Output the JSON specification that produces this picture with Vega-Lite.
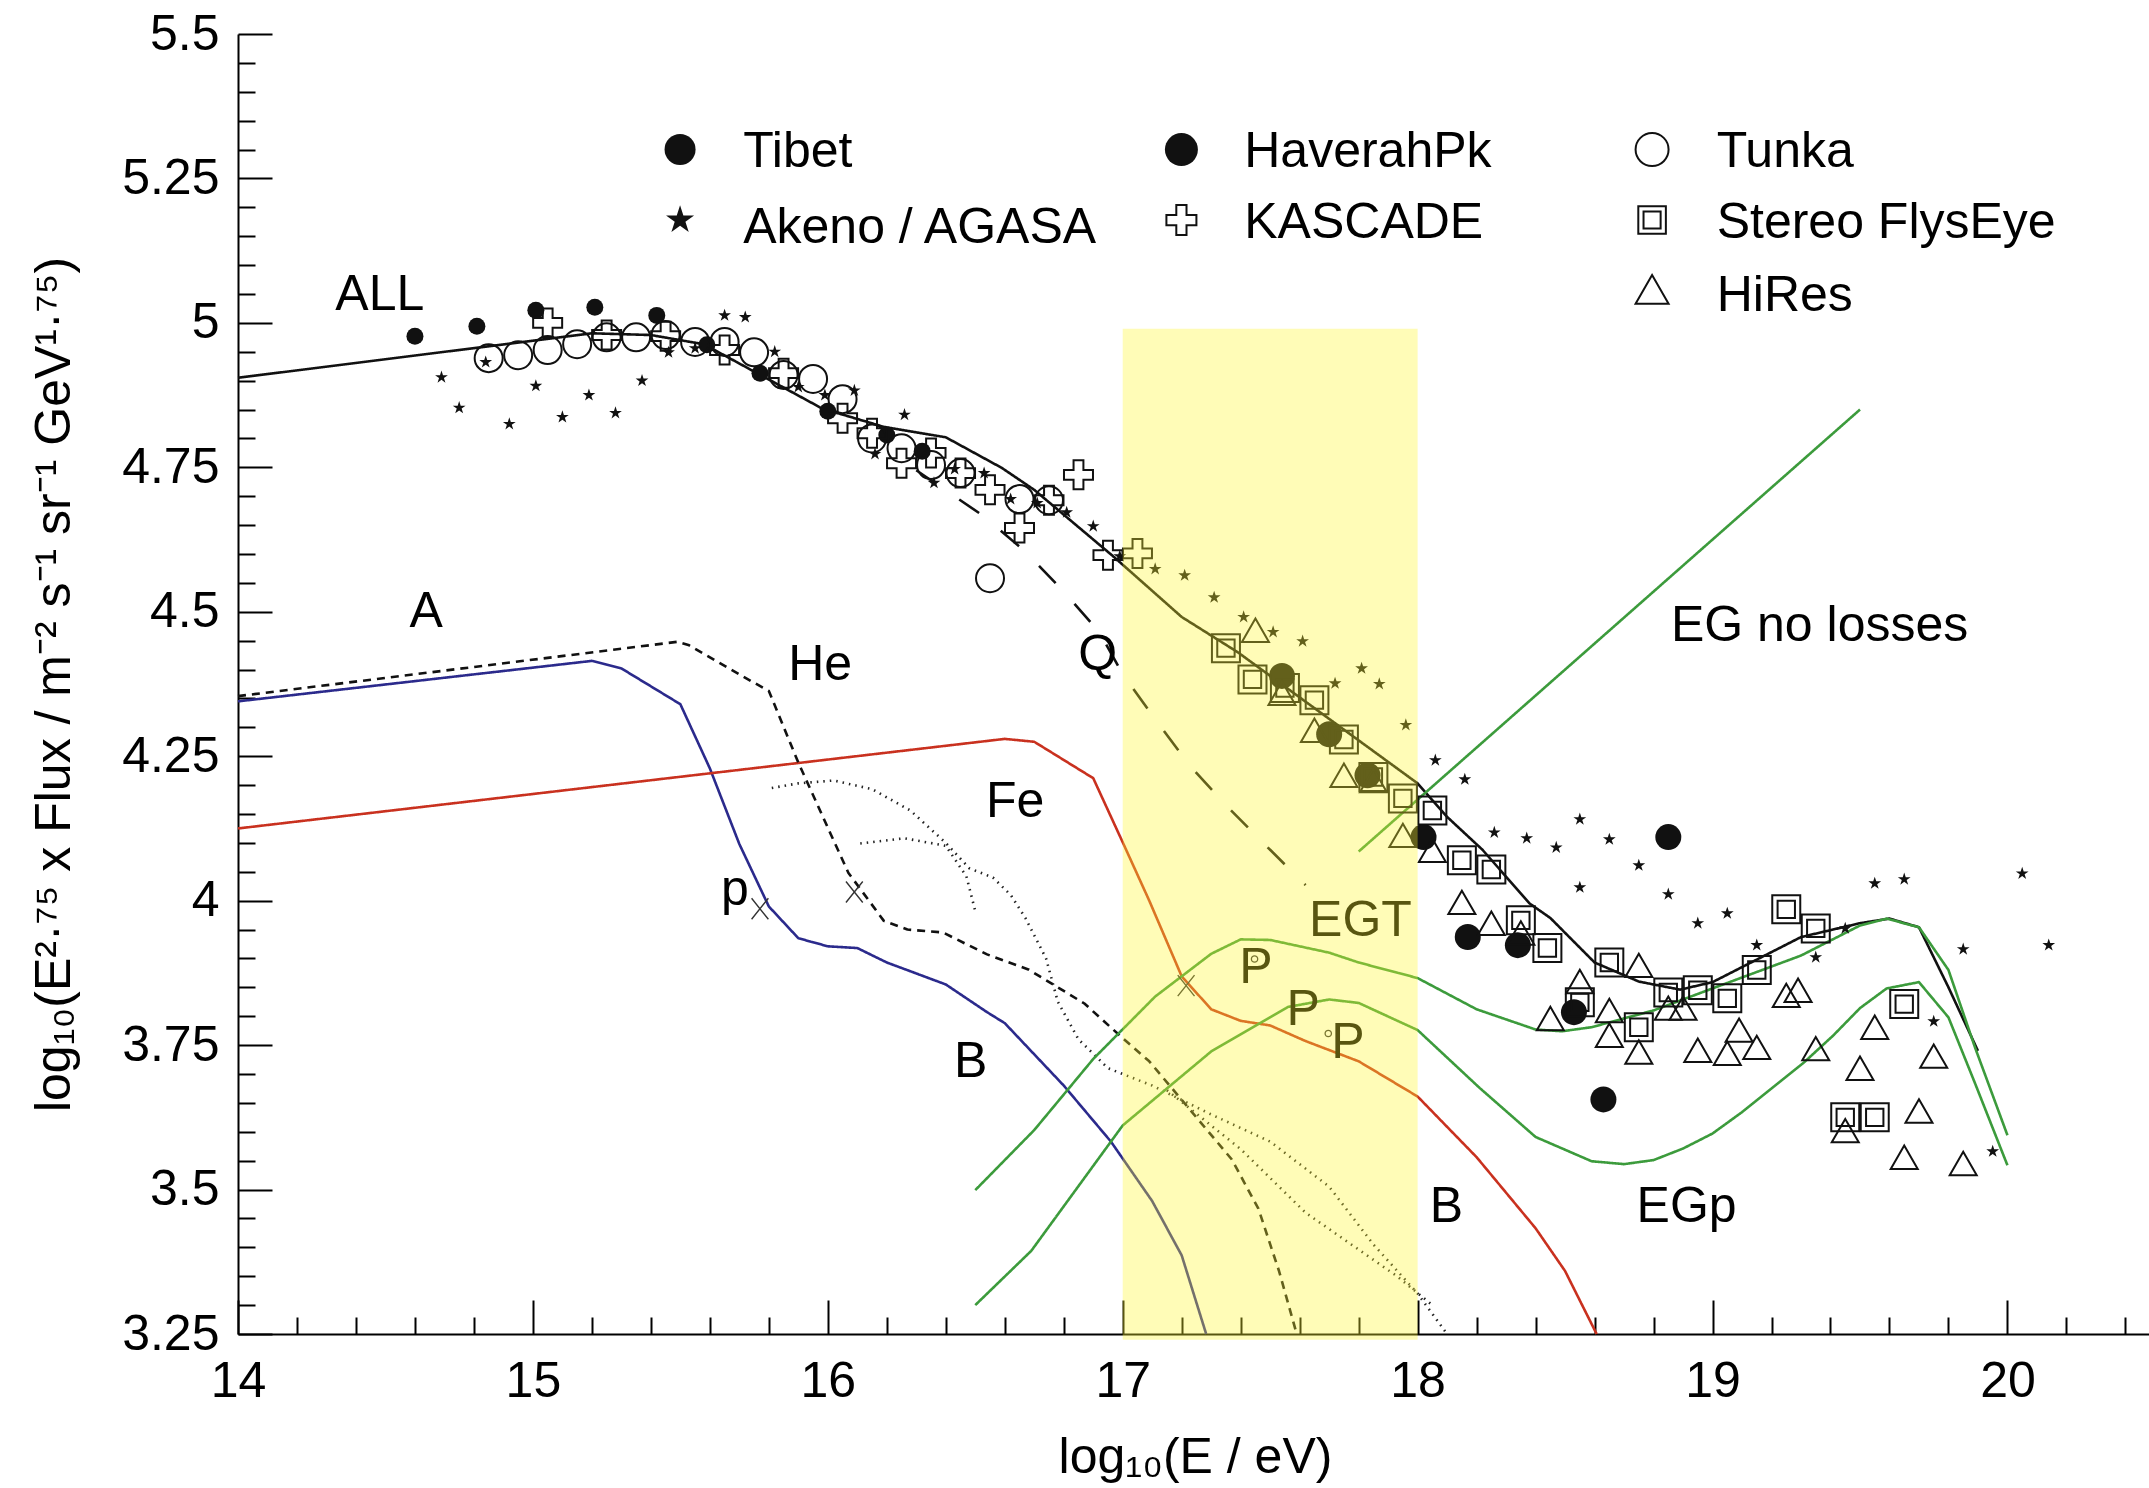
{
"$schema": "https://vega.github.io/schema/vega-lite/v6.json",
"width": 1911, "height": 1300,
"autosize": "none",
"padding": {"left": 238, "top": 34, "right": 0, "bottom": 154},
"background": "white",
"view": {"stroke": null},
"config": {"font": "Liberation Sans", "text": {"font": "Liberation Sans", "fontSize": 50, "color": "#000"}},
"datasets": {
"band": [{"x": 17, "x2": 18, "y": 3.24, "y2": 4.99}],
"curves": [
{"c":"ALL","x":14,"y":4.905},{"c":"ALL","x":15.2,"y":4.982},{"c":"ALL","x":15.4,"y":4.979},{"c":"ALL","x":15.58,"y":4.963},{"c":"ALL","x":15.98,"y":4.852},{"c":"ALL","x":16.19,"y":4.82},{"c":"ALL","x":16.4,"y":4.802},{"c":"ALL","x":16.59,"y":4.749},{"c":"ALL","x":16.7,"y":4.711},{"c":"ALL","x":16.97,"y":4.595},{"c":"ALL","x":17.2,"y":4.491},{"c":"ALL","x":17.39,"y":4.43},{"c":"ALL","x":18.0,"y":4.203},{"c":"ALL","x":18.1,"y":4.145},{"c":"ALL","x":18.22,"y":4.088},{"c":"ALL","x":18.38,"y":3.995},{"c":"ALL","x":18.45,"y":3.97},{"c":"ALL","x":18.6,"y":3.893},{"c":"ALL","x":18.75,"y":3.86},{"c":"ALL","x":18.89,"y":3.846},{"c":"ALL","x":19.0,"y":3.859},{"c":"ALL","x":19.3,"y":3.937},{"c":"ALL","x":19.5,"y":3.961},{"c":"ALL","x":19.6,"y":3.969},{"c":"ALL","x":19.7,"y":3.954},{"c":"ALL","x":19.8,"y":3.85},{"c":"ALL","x":19.9,"y":3.74},
{"c":"Q","x":16.3,"y":4.745},{"c":"Q","x":16.53,"y":4.665},{"c":"Q","x":16.67,"y":4.604},{"c":"Q","x":16.8,"y":4.535},{"c":"Q","x":16.92,"y":4.465},{"c":"Q","x":17.0,"y":4.392},{"c":"Q","x":17.12,"y":4.307},{"c":"Q","x":17.23,"y":4.232},{"c":"Q","x":17.36,"y":4.16},{"c":"Q","x":17.49,"y":4.093},{"c":"Q","x":17.62,"y":4.027},
{"c":"p","x":14,"y":4.345},{"c":"p","x":15.2,"y":4.415},{"c":"p","x":15.3,"y":4.402},{"c":"p","x":15.4,"y":4.371},{"c":"p","x":15.5,"y":4.34},{"c":"p","x":15.6,"y":4.229},{"c":"p","x":15.7,"y":4.098},{"c":"p","x":15.8,"y":3.99},{"c":"p","x":15.9,"y":3.935},{"c":"p","x":16.0,"y":3.921},{"c":"p","x":16.1,"y":3.918},{"c":"p","x":16.2,"y":3.893},{"c":"p","x":16.3,"y":3.874},{"c":"p","x":16.4,"y":3.855},{"c":"p","x":16.54,"y":3.807},{"c":"p","x":16.6,"y":3.788},{"c":"p","x":16.8,"y":3.68},{"c":"p","x":16.96,"y":3.583},{"c":"p","x":17.1,"y":3.48},{"c":"p","x":17.2,"y":3.386},{"c":"p","x":17.283,"y":3.25},
{"c":"Fe","x":14,"y":4.125},{"c":"Fe","x":16.6,"y":4.28},{"c":"Fe","x":16.7,"y":4.275},{"c":"Fe","x":16.9,"y":4.212},{"c":"Fe","x":17.0,"y":4.101},{"c":"Fe","x":17.09,"y":4.0},{"c":"Fe","x":17.2,"y":3.869},{"c":"Fe","x":17.3,"y":3.812},{"c":"Fe","x":17.4,"y":3.792},{"c":"Fe","x":17.5,"y":3.784},{"c":"Fe","x":17.62,"y":3.757},{"c":"Fe","x":17.8,"y":3.722},{"c":"Fe","x":18.0,"y":3.661},{"c":"Fe","x":18.2,"y":3.556},{"c":"Fe","x":18.4,"y":3.433},{"c":"Fe","x":18.5,"y":3.359},{"c":"Fe","x":18.607,"y":3.25},
{"c":"He","x":14,"y":4.354},{"c":"He","x":15.49,"y":4.448},{"c":"He","x":15.53,"y":4.442},{"c":"He","x":15.74,"y":4.38},{"c":"He","x":15.8,"y":4.363},{"c":"He","x":15.9,"y":4.239},{"c":"He","x":16.01,"y":4.115},{"c":"He","x":16.07,"y":4.048},{"c":"He","x":16.19,"y":3.965},{"c":"He","x":16.27,"y":3.95},{"c":"He","x":16.39,"y":3.945},{"c":"He","x":16.54,"y":3.907},{"c":"He","x":16.68,"y":3.881},{"c":"He","x":16.87,"y":3.822},{"c":"He","x":17.0,"y":3.762},{"c":"He","x":17.09,"y":3.722},{"c":"He","x":17.23,"y":3.637},{"c":"He","x":17.37,"y":3.552},{"c":"He","x":17.46,"y":3.467},{"c":"He","x":17.53,"y":3.359},{"c":"He","x":17.59,"y":3.25},
{"c":"D1","x":15.81,"y":4.195},{"c":"D1","x":15.9,"y":4.203},{"c":"D1","x":16.02,"y":4.208},{"c":"D1","x":16.15,"y":4.193},{"c":"D1","x":16.28,"y":4.156},{"c":"D1","x":16.4,"y":4.1},{"c":"D1","x":16.48,"y":4.056},{"c":"D1","x":16.56,"y":4.04},{"c":"D1","x":16.62,"y":4.01},{"c":"D1","x":16.67,"y":3.97},{"c":"D1","x":16.74,"y":3.9},{"c":"D1","x":16.78,"y":3.825},{"c":"D1","x":16.85,"y":3.76},{"c":"D1","x":16.95,"y":3.71},{"c":"D1","x":17.1,"y":3.68},{"c":"D1","x":17.3,"y":3.63},{"c":"D1","x":17.5,"y":3.583},{"c":"D1","x":17.7,"y":3.505},{"c":"D1","x":17.85,"y":3.405},{"c":"D1","x":18.0,"y":3.32},{"c":"D1","x":18.1,"y":3.25},
{"c":"D2","x":16.11,"y":4.099},{"c":"D2","x":16.26,"y":4.108},{"c":"D2","x":16.4,"y":4.095},{"c":"D2","x":16.47,"y":4.042},{"c":"D2","x":16.5,"y":3.982},
{"c":"D3","x":17.15,"y":3.672},{"c":"D3","x":17.4,"y":3.57},{"c":"D3","x":17.62,"y":3.46},{"c":"D3","x":17.93,"y":3.35},{"c":"D3","x":18.05,"y":3.3},
{"c":"EGT","x":16.5,"y":3.499},{"c":"EGT","x":16.7,"y":3.603},{"c":"EGT","x":16.9,"y":3.726},{"c":"EGT","x":17.11,"y":3.834},{"c":"EGT","x":17.3,"y":3.908},{"c":"EGT","x":17.4,"y":3.933},{"c":"EGT","x":17.5,"y":3.932},{"c":"EGT","x":17.7,"y":3.91},{"c":"EGT","x":17.8,"y":3.893},{"c":"EGT","x":18.0,"y":3.866},{"c":"EGT","x":18.2,"y":3.812},{"c":"EGT","x":18.4,"y":3.777},{"c":"EGT","x":18.49,"y":3.774},{"c":"EGT","x":18.59,"y":3.781},{"c":"EGT","x":18.8,"y":3.81},{"c":"EGT","x":19.01,"y":3.85},{"c":"EGT","x":19.3,"y":3.905},{"c":"EGT","x":19.5,"y":3.957},{"c":"EGT","x":19.59,"y":3.969},{"c":"EGT","x":19.7,"y":3.954},{"c":"EGT","x":19.8,"y":3.88},{"c":"EGT","x":19.89,"y":3.746},{"c":"EGT","x":20.0,"y":3.594},
{"c":"EGp","x":16.5,"y":3.3},{"c":"EGp","x":16.69,"y":3.394},{"c":"EGp","x":17.0,"y":3.611},{"c":"EGp","x":17.3,"y":3.739},{"c":"EGp","x":17.56,"y":3.816},{"c":"EGp","x":17.7,"y":3.829},{"c":"EGp","x":17.8,"y":3.823},{"c":"EGp","x":18.0,"y":3.776},{"c":"EGp","x":18.21,"y":3.676},{"c":"EGp","x":18.4,"y":3.591},{"c":"EGp","x":18.59,"y":3.549},{"c":"EGp","x":18.7,"y":3.544},{"c":"EGp","x":18.8,"y":3.551},{"c":"EGp","x":18.9,"y":3.571},{"c":"EGp","x":19.0,"y":3.597},{"c":"EGp","x":19.1,"y":3.634},{"c":"EGp","x":19.2,"y":3.675},{"c":"EGp","x":19.31,"y":3.72},{"c":"EGp","x":19.41,"y":3.767},{"c":"EGp","x":19.5,"y":3.814},{"c":"EGp","x":19.59,"y":3.848},{"c":"EGp","x":19.7,"y":3.859},{"c":"EGp","x":19.8,"y":3.798},{"c":"EGp","x":19.89,"y":3.684},{"c":"EGp","x":20.0,"y":3.542},
{"c":"EGnl","x":17.8,"y":4.085},{"c":"EGnl","x":19.5,"y":4.85}
],
"pts": [
{"s":"Tibet","x":14.6,"y":4.977},{"s":"Tibet","x":14.81,"y":4.994},{"s":"Tibet","x":15.01,"y":5.022},{"s":"Tibet","x":15.21,"y":5.027},{"s":"Tibet","x":15.42,"y":5.013},{"s":"Tibet","x":15.59,"y":4.962},{"s":"Tibet","x":15.77,"y":4.913},{"s":"Tibet","x":16.0,"y":4.847},{"s":"Tibet","x":16.2,"y":4.806},{"s":"Tibet","x":16.32,"y":4.778},
{"s":"Tunka","x":14.85,"y":4.939},{"s":"Tunka","x":14.95,"y":4.944},{"s":"Tunka","x":15.05,"y":4.953},{"s":"Tunka","x":15.15,"y":4.963},{"s":"Tunka","x":15.25,"y":4.975},{"s":"Tunka","x":15.35,"y":4.975},{"s":"Tunka","x":15.45,"y":4.979},{"s":"Tunka","x":15.55,"y":4.967},{"s":"Tunka","x":15.65,"y":4.967},{"s":"Tunka","x":15.75,"y":4.949},{"s":"Tunka","x":15.85,"y":4.91},{"s":"Tunka","x":15.95,"y":4.903},{"s":"Tunka","x":16.05,"y":4.868},{"s":"Tunka","x":16.15,"y":4.8},{"s":"Tunka","x":16.25,"y":4.783},{"s":"Tunka","x":16.35,"y":4.754},{"s":"Tunka","x":16.45,"y":4.74},{"s":"Tunka","x":16.55,"y":4.558},{"s":"Tunka","x":16.65,"y":4.695},{"s":"Tunka","x":16.75,"y":4.693},
{"s":"KASCADE","x":15.05,"y":5.0},{"s":"KASCADE","x":15.25,"y":4.979},{"s":"KASCADE","x":15.45,"y":4.977},{"s":"KASCADE","x":15.65,"y":4.953},{"s":"KASCADE","x":15.85,"y":4.913},{"s":"KASCADE","x":16.05,"y":4.835},{"s":"KASCADE","x":16.15,"y":4.809},{"s":"KASCADE","x":16.25,"y":4.757},{"s":"KASCADE","x":16.35,"y":4.775},{"s":"KASCADE","x":16.45,"y":4.74},{"s":"KASCADE","x":16.55,"y":4.711},{"s":"KASCADE","x":16.65,"y":4.645},{"s":"KASCADE","x":16.75,"y":4.693},{"s":"KASCADE","x":16.85,"y":4.737},{"s":"KASCADE","x":16.95,"y":4.598},{"s":"KASCADE","x":17.05,"y":4.601},
{"s":"Akeno","x":14.69,"y":4.906},{"s":"Akeno","x":14.75,"y":4.853},{"s":"Akeno","x":14.84,"y":4.932},{"s":"Akeno","x":14.92,"y":4.825},{"s":"Akeno","x":15.01,"y":4.891},{"s":"Akeno","x":15.1,"y":4.837},{"s":"Akeno","x":15.19,"y":4.875},{"s":"Akeno","x":15.28,"y":4.844},{"s":"Akeno","x":15.37,"y":4.9},{"s":"Akeno","x":15.46,"y":4.949},{"s":"Akeno","x":15.55,"y":4.956},{"s":"Akeno","x":15.65,"y":5.013},{"s":"Akeno","x":15.72,"y":5.01},{"s":"Akeno","x":15.82,"y":4.95},{"s":"Akeno","x":15.9,"y":4.889},{"s":"Akeno","x":15.99,"y":4.875},{"s":"Akeno","x":16.09,"y":4.883},{"s":"Akeno","x":16.16,"y":4.773},{"s":"Akeno","x":16.26,"y":4.841},{"s":"Akeno","x":16.36,"y":4.723},{"s":"Akeno","x":16.43,"y":4.747},{"s":"Akeno","x":16.53,"y":4.74},{"s":"Akeno","x":16.62,"y":4.695},{"s":"Akeno","x":16.71,"y":4.688},{"s":"Akeno","x":16.81,"y":4.672},{"s":"Akeno","x":16.9,"y":4.648},{"s":"Akeno","x":16.99,"y":4.596},{"s":"Akeno","x":17.11,"y":4.574},{"s":"Akeno","x":17.21,"y":4.563},{"s":"Akeno","x":17.31,"y":4.525},{"s":"Akeno","x":17.41,"y":4.491},{"s":"Akeno","x":17.51,"y":4.465},{"s":"Akeno","x":17.61,"y":4.449},{"s":"Akeno","x":17.72,"y":4.376},{"s":"Akeno","x":17.81,"y":4.402},{"s":"Akeno","x":17.87,"y":4.375},{"s":"Akeno","x":17.96,"y":4.304},{"s":"Akeno","x":18.06,"y":4.243},{"s":"Akeno","x":18.16,"y":4.21},{"s":"Akeno","x":18.26,"y":4.118},{"s":"Akeno","x":18.37,"y":4.108},{"s":"Akeno","x":18.47,"y":4.092},{"s":"Akeno","x":18.55,"y":4.141},{"s":"Akeno","x":18.55,"y":4.023},{"s":"Akeno","x":18.65,"y":4.106},{"s":"Akeno","x":18.75,"y":4.061},{"s":"Akeno","x":18.85,"y":4.011},{"s":"Akeno","x":18.95,"y":3.961},{"s":"Akeno","x":19.05,"y":3.978},{"s":"Akeno","x":19.15,"y":3.923},{"s":"Akeno","x":19.35,"y":3.902},{"s":"Akeno","x":19.45,"y":3.952},{"s":"Akeno","x":19.55,"y":4.03},{"s":"Akeno","x":19.65,"y":4.037},{"s":"Akeno","x":19.75,"y":3.791},{"s":"Akeno","x":19.85,"y":3.916},{"s":"Akeno","x":19.95,"y":3.566},{"s":"Akeno","x":20.05,"y":4.047},{"s":"Akeno","x":20.14,"y":3.923},
{"s":"Haverah","x":17.54,"y":4.389},{"s":"Haverah","x":17.7,"y":4.288},{"s":"Haverah","x":17.83,"y":4.217},{"s":"Haverah","x":18.02,"y":4.11},{"s":"Haverah","x":18.17,"y":3.937},{"s":"Haverah","x":18.34,"y":3.923},{"s":"Haverah","x":18.53,"y":3.807},{"s":"Haverah","x":18.63,"y":3.656},{"s":"Haverah","x":18.85,"y":4.11},
{"s":"Stereo","x":17.35,"y":4.437},{"s":"Stereo","x":17.44,"y":4.383},{"s":"Stereo","x":17.55,"y":4.368},{"s":"Stereo","x":17.65,"y":4.347},{"s":"Stereo","x":17.75,"y":4.279},{"s":"Stereo","x":17.85,"y":4.214},{"s":"Stereo","x":17.95,"y":4.177},{"s":"Stereo","x":18.05,"y":4.156},{"s":"Stereo","x":18.15,"y":4.07},{"s":"Stereo","x":18.25,"y":4.054},{"s":"Stereo","x":18.35,"y":3.966},{"s":"Stereo","x":18.44,"y":3.918},{"s":"Stereo","x":18.55,"y":3.824},{"s":"Stereo","x":18.65,"y":3.893},{"s":"Stereo","x":18.75,"y":3.781},{"s":"Stereo","x":18.85,"y":3.841},{"s":"Stereo","x":18.95,"y":3.845},{"s":"Stereo","x":19.05,"y":3.831},{"s":"Stereo","x":19.15,"y":3.88},{"s":"Stereo","x":19.25,"y":3.985},{"s":"Stereo","x":19.35,"y":3.952},{"s":"Stereo","x":19.45,"y":3.625},{"s":"Stereo","x":19.55,"y":3.625},{"s":"Stereo","x":19.65,"y":3.821},
{"s":"HiRes","x":17.45,"y":4.468},{"s":"HiRes","x":17.54,"y":4.359},{"s":"HiRes","x":17.65,"y":4.295},{"s":"HiRes","x":17.75,"y":4.217},{"s":"HiRes","x":17.85,"y":4.208},{"s":"HiRes","x":17.95,"y":4.113},{"s":"HiRes","x":18.05,"y":4.087},{"s":"HiRes","x":18.15,"y":3.997},{"s":"HiRes","x":18.25,"y":3.961},{"s":"HiRes","x":18.35,"y":3.944},{"s":"HiRes","x":18.45,"y":3.796},{"s":"HiRes","x":18.55,"y":3.86},{"s":"HiRes","x":18.65,"y":3.81},{"s":"HiRes","x":18.65,"y":3.767},{"s":"HiRes","x":18.75,"y":3.888},{"s":"HiRes","x":18.75,"y":3.738},{"s":"HiRes","x":18.85,"y":3.814},{"s":"HiRes","x":18.9,"y":3.814},{"s":"HiRes","x":18.95,"y":3.741},{"s":"HiRes","x":19.05,"y":3.736},{"s":"HiRes","x":19.09,"y":3.776},{"s":"HiRes","x":19.15,"y":3.746},{"s":"HiRes","x":19.25,"y":3.836},{"s":"HiRes","x":19.29,"y":3.845},{"s":"HiRes","x":19.35,"y":3.744},{"s":"HiRes","x":19.45,"y":3.602},{"s":"HiRes","x":19.5,"y":3.71},{"s":"HiRes","x":19.55,"y":3.781},{"s":"HiRes","x":19.65,"y":3.556},{"s":"HiRes","x":19.7,"y":3.636},{"s":"HiRes","x":19.75,"y":3.731},{"s":"HiRes","x":19.85,"y":3.545},
{"s":"X","x":15.77,"y":3.986},{"s":"X","x":16.09,"y":4.015},{"s":"X","x":17.215,"y":3.853},
{"s":"ring","x":17.447,"y":3.899},{"s":"ring","x":17.697,"y":3.77}
],
"labels": [
{"t":"ALL","x":14.481,"y":5.022},{"t":"A","x":14.638,"y":4.474},{"t":"He","x":15.974,"y":4.382},{"t":"Q","x":16.915,"y":4.399},{"t":"EG no losses","x":19.363,"y":4.449},{"t":"Fe","x":16.635,"y":4.145},{"t":"p","x":15.685,"y":3.993},{"t":"B","x":16.484,"y":3.695},{"t":"EGT","x":17.806,"y":3.939},{"t":"P","x":17.452,"y":3.858},{"t":"P","x":17.612,"y":3.785},{"t":"P","x":17.764,"y":3.727},{"t":"B","x":18.098,"y":3.443},{"t":"EGp","x":18.912,"y":3.443}
],
"leg": [
{"s":"Tibet","t":"Tibet","x":15.499,"y":5.3,"tx":15.713,"ty":5.269},
{"s":"Akeno","t":"Akeno / AGASA","x":15.499,"y":5.178,"tx":15.713,"ty":5.139},
{"s":"Haverah","t":"HaverahPk","x":17.199,"y":5.3,"tx":17.412,"ty":5.269},
{"s":"KASCADE","t":"KASCADE","x":17.199,"y":5.178,"tx":17.412,"ty":5.147},
{"s":"Tunka","t":"Tunka","x":18.795,"y":5.3,"tx":19.014,"ty":5.269},
{"s":"Stereo","t":"Stereo FlysEye","x":18.795,"y":5.178,"tx":19.014,"ty":5.147},
{"s":"HiRes","t":"HiRes","x":18.795,"y":5.058,"tx":19.014,"ty":5.02}
]
},
"encoding": {
"x": {"field": "x", "type": "quantitative", "scale": {"domain": [14, 20.48], "nice": false, "zero": false},
 "axis": {"values": [14,14.2,14.4,14.6,14.8,15,15.2,15.4,15.6,15.8,16,16.2,16.4,16.6,16.8,17,17.2,17.4,17.6,17.8,18,18.2,18.4,18.6,18.8,19,19.2,19.4,19.6,19.8,20,20.2,20.4],
  "format": "~g", "labelExpr": "datum.value % 1 == 0 ? datum.label : ''",
  "tickSize": {"condition": {"test": "datum.value % 1 == 0", "value": -34}, "value": -17},
  "tickWidth": 2, "tickColor": "#000", "domainColor": "#000", "domainWidth": 2, "grid": false,
  "labelFont": "Liberation Sans", "labelFontSize": 50, "labelColor": "#000", "labelPadding": 56, "labelFlush": false, "labelOverlap": false,
  "title": "log₁₀(E / eV)", "titleFont": "Liberation Sans", "titleFontSize": 50, "titleFontWeight": "normal", "titleColor": "#000",
  "titleX": 957, "titleY": 138, "titleBaseline": "alphabetic", "titleAlign": "center"}},
"y": {"field": "y", "type": "quantitative", "scale": {"domain": [3.25, 5.5], "nice": false, "zero": false},
 "axis": {"values": [3.25,3.3,3.35,3.4,3.45,3.5,3.55,3.6,3.65,3.7,3.75,3.8,3.85,3.9,3.95,4,4.05,4.1,4.15,4.2,4.25,4.3,4.35,4.4,4.45,4.5,4.55,4.6,4.65,4.7,4.75,4.8,4.85,4.9,4.95,5,5.05,5.1,5.15,5.2,5.25,5.3,5.35,5.4,5.45,5.5],
  "format": "~g", "labelExpr": "(datum.value * 4) % 1 == 0 ? datum.label : ''",
  "tickSize": {"condition": {"test": "(datum.value * 4) % 1 == 0", "value": -34}, "value": -17},
  "tickWidth": 2, "tickColor": "#000", "domainColor": "#000", "domainWidth": 2, "grid": false,
  "labelFont": "Liberation Sans", "labelFontSize": 50, "labelColor": "#000", "labelPadding": 53, "labelFlush": false, "labelOverlap": false,
  "title": "log₁₀(E²·⁷⁵ x Flux / m⁻² s⁻¹ sr⁻¹ GeV¹·⁷⁵)", "titleFont": "Liberation Sans", "titleFontSize": 50, "titleFontWeight": "normal", "titleColor": "#000",
  "titleX": -169, "titleY": 650, "titleAngle": 270, "titleBaseline": "alphabetic", "titleAlign": "center"}}
},
"layer": [
{"data": {"name": "curves"}, "mark": {"type": "line", "strokeCap": "butt", "strokeJoin": "round"},
 "encoding": {
  "color": {"field": "c", "type": "nominal", "legend": null, "scale": {"domain": ["ALL","Q","p","Fe","He","D1","D2","D3","EGT","EGp","EGnl"], "range": ["#111111","#111111","#2b2a8c","#c9311f","#111111","#222222","#222222","#222222","#3c9b3c","#3c9b3c","#3c9b3c"]}},
  "strokeDash": {"field": "c", "type": "nominal", "legend": null, "scale": {"domain": ["ALL","Q","p","Fe","He","D1","D2","D3","EGT","EGp","EGnl"], "range": [[1,0],[24,28],[1,0],[1,0],[8,6],[1.5,5],[1.5,5],[1.5,5],[1,0],[1,0],[1,0]]}},
  "strokeWidth": {"field": "c", "type": "nominal", "legend": null, "scale": {"domain": ["ALL","Q","p","Fe","He","D1","D2","D3","EGT","EGp","EGnl"], "range": [2.6,2.6,2.4,2.4,1.7,1.5,1.5,1.5,2.4,2.4,2.4]}}
 }},
{"data": {"name": "pts"}, "transform": [{"filter": "datum.s == 'Tibet'"}], "mark": {"type": "point", "shape": "circle", "size": 289, "filled": true, "color": "#111", "opacity": 1}},
{"data": {"name": "pts"}, "transform": [{"filter": "datum.s == 'Haverah'"}], "mark": {"type": "point", "shape": "circle", "size": 676, "filled": true, "color": "#111", "opacity": 1}},
{"data": {"name": "pts"}, "transform": [{"filter": "datum.s == 'Tunka'"}], "mark": {"type": "point", "shape": "circle", "size": 784, "filled": false, "color": "#111", "strokeWidth": 2, "opacity": 1}},
{"data": {"name": "pts"}, "transform": [{"filter": "datum.s == 'KASCADE'"}], "mark": {"type": "point", "shape": "M-0.34,-1H0.34V-0.34H1V0.34H0.34V1H-0.34V0.34H-1V-0.34H-0.34Z", "size": 841, "filled": false, "color": "#111", "strokeWidth": 2, "opacity": 1}},
{"data": {"name": "pts"}, "transform": [{"filter": "datum.s == 'Akeno'"}], "mark": {"type": "point", "shape": "M0,-1L0.2245,-0.309L0.951,-0.309L0.363,0.118L0.588,0.809L0,0.382L-0.588,0.809L-0.363,0.118L-0.951,-0.309L-0.2245,-0.309Z", "size": 180, "filled": true, "color": "#111", "opacity": 1}},
{"data": {"name": "pts"}, "transform": [{"filter": "datum.s == 'Stereo'"}], "mark": {"type": "point", "shape": "M-1,-1H1V1H-1Z M-0.62,-0.62H0.62V0.62H-0.62Z", "size": 784, "filled": false, "color": "#111", "strokeWidth": 2, "opacity": 1}},
{"data": {"name": "pts"}, "transform": [{"filter": "datum.s == 'HiRes'"}], "mark": {"type": "point", "shape": "M0,-0.866L1,0.866L-1,0.866Z", "size": 729, "filled": false, "color": "#111", "strokeWidth": 2, "opacity": 1}},
{"data": {"name": "pts"}, "transform": [{"filter": "datum.s == 'X'"}], "mark": {"type": "point", "shape": "M-0.8,-1L0.8,1M-0.8,1L0.8,-1", "size": 441, "filled": false, "color": "#333", "strokeWidth": 1.4, "opacity": 1}},
{"data": {"name": "pts"}, "transform": [{"filter": "datum.s == 'ring'"}], "mark": {"type": "point", "shape": "circle", "size": 40, "filled": false, "color": "#333", "strokeWidth": 1.3, "opacity": 1}},
{"data": {"name": "labels"}, "mark": {"type": "text", "align": "center", "baseline": "alphabetic", "font": "Liberation Sans", "fontSize": 50, "color": "#000"}, "encoding": {"text": {"field": "t"}}},
{"data": {"name": "band"}, "mark": {"type": "rect", "fill": "#fff52e", "fillOpacity": 0.345, "strokeWidth": 0},
 "encoding": {"x2": {"field": "x2"}, "y2": {"field": "y2"}}},
{"data": {"values": [{}]}, "mark": {"type": "rule", "color": "#000", "strokeWidth": 2},
 "encoding": {"x": {"datum": 14}, "x2": {"datum": 20.48}, "y": {"datum": 5.5}}},
{"data": {"name": "leg"}, "transform": [{"filter": "datum.s == 'Tibet'"}], "mark": {"type": "point", "shape": "circle", "size": 961, "filled": true, "color": "#111", "opacity": 1}},
{"data": {"name": "leg"}, "transform": [{"filter": "datum.s == 'Haverah'"}], "mark": {"type": "point", "shape": "circle", "size": 1089, "filled": true, "color": "#111", "opacity": 1}},
{"data": {"name": "leg"}, "transform": [{"filter": "datum.s == 'Tunka'"}], "mark": {"type": "point", "shape": "circle", "size": 1089, "filled": false, "color": "#111", "strokeWidth": 2, "opacity": 1}},
{"data": {"name": "leg"}, "transform": [{"filter": "datum.s == 'KASCADE'"}], "mark": {"type": "point", "shape": "M-0.34,-1H0.34V-0.34H1V0.34H0.34V1H-0.34V0.34H-1V-0.34H-0.34Z", "size": 900, "filled": false, "color": "#111", "strokeWidth": 2, "opacity": 1}},
{"data": {"name": "leg"}, "transform": [{"filter": "datum.s == 'Akeno'"}], "mark": {"type": "point", "shape": "M0,-1L0.2245,-0.309L0.951,-0.309L0.363,0.118L0.588,0.809L0,0.382L-0.588,0.809L-0.363,0.118L-0.951,-0.309L-0.2245,-0.309Z", "size": 870, "filled": true, "color": "#111", "opacity": 1}},
{"data": {"name": "leg"}, "transform": [{"filter": "datum.s == 'Stereo'"}], "mark": {"type": "point", "shape": "M-1,-1H1V1H-1Z M-0.62,-0.62H0.62V0.62H-0.62Z", "size": 760, "filled": false, "color": "#111", "strokeWidth": 2, "opacity": 1}},
{"data": {"name": "leg"}, "transform": [{"filter": "datum.s == 'HiRes'"}], "mark": {"type": "point", "shape": "M0,-0.866L1,0.866L-1,0.866Z", "size": 1089, "filled": false, "color": "#111", "strokeWidth": 2, "opacity": 1}},
{"data": {"name": "leg"}, "mark": {"type": "text", "align": "left", "baseline": "alphabetic", "font": "Liberation Sans", "fontSize": 50, "color": "#000"},
 "encoding": {"x": {"field": "tx", "type": "quantitative"}, "y": {"field": "ty", "type": "quantitative"}, "text": {"field": "t"}}}
]
}
